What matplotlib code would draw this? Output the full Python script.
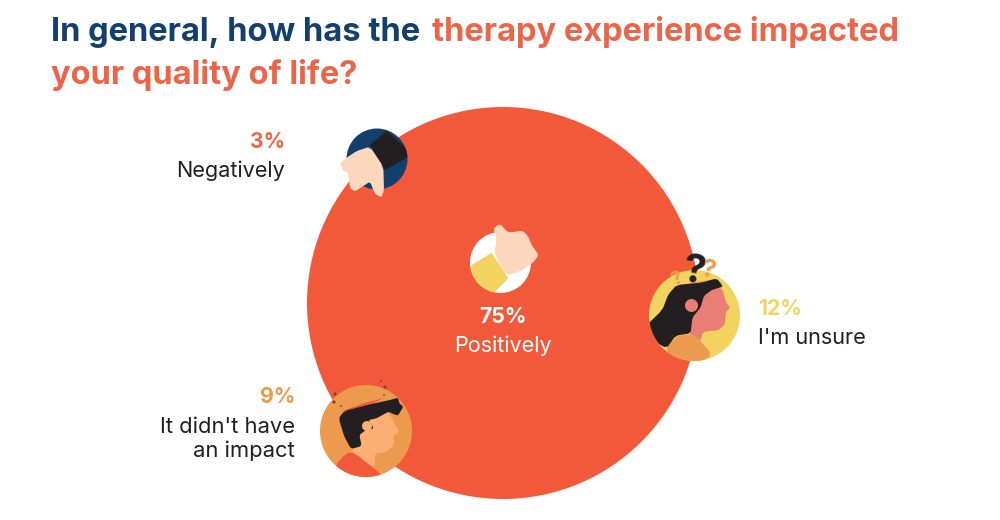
#!/usr/bin/env python3
"""Bubble infographic: how therapy impacted quality of life."""

import matplotlib

matplotlib.use("Agg")
import matplotlib.pyplot as plt
import numpy as np
from matplotlib.patches import Circle, Polygon

plt.rcParams["font.family"] = ["Inter", "DejaVu Sans"]

CATEGORIES = ["Positively", "I'm unsure", "It didn't have\nan impact", "Negatively"]
VALUES = [75, 12, 9, 3]

NAVY = "#123F6D"
RED = "#F2593B"
TITLE_RED = "#EC6548"
YELLOW = "#F3D35F"
ORANGE = "#EC9A4E"
DARK = "#231F20"
SKIN = "#FDD6BE"
PINK = "#E97F74"
TAN = "#FBAF72"


def smooth(points, rounds=2):
    pts = np.array(points, dtype=float)
    for _ in range(rounds):
        nxt = np.roll(pts, -1, axis=0)
        pts = np.column_stack([0.85 * pts + 0.15 * nxt, 0.15 * pts + 0.85 * nxt]).reshape(-1, 2)
    return pts


def shape(ax, points, origin, color, clip=None, zorder=3, rounds=1):
    pts = smooth(points, rounds) / 3 + np.array(origin)
    patch = Polygon(pts, closed=True, facecolor=color, edgecolor="none", zorder=zorder)
    ax.add_patch(patch)
    if clip is not None:
        patch.set_clip_path(clip)
    return patch


def disc(ax, x, y, r, color, zorder=2):
    patch = Circle((x, y), r, facecolor=color, edgecolor="none", zorder=zorder)
    ax.add_patch(patch)
    return patch


def draw_thumb_down(ax):
    o = (320, 110)
    base = disc(ax, 377, 159, 30.5, NAVY)
    shape(ax, [(150, 105), (200, 62), (275, 130), (250, 150), (195, 180)], o, DARK, clip=base, rounds=0)
    shape(ax, [(150, 110), (110, 123), (80, 143), (60, 160), (68, 180), (85, 190), (90, 235), (105, 244),
               (130, 228), (150, 215), (165, 252), (185, 262), (192, 240), (190, 170)], o, SKIN, zorder=4)


def draw_thumb_up(ax):
    o = (450, 210)
    base = disc(ax, 500.5, 262.5, 30.5, "white")
    shape(ax, [(55, 172), (125, 128), (175, 205), (125, 255), (60, 240)], o, YELLOW, clip=base, rounds=0)
    shape(ax, [(130, 55), (150, 42), (175, 68), (218, 62), (235, 80), (245, 105), (266, 135), (250, 157),
               (218, 180), (180, 194), (163, 190), (133, 130), (140, 90)], o, SKIN, zorder=4)


def draw_unsure(ax):
    o = (635, 245)
    base = disc(ax, 694.5, 315.5, 45.5, YELLOW)
    shape(ax, [(115, 125), (175, 112), (242, 102), (205, 118), (150, 128)], o, ORANGE, rounds=0)
    shape(ax, [(160, 265), (170, 220), (165, 170), (230, 128), (262, 130), (272, 170), (285, 188), (272, 202),
               (270, 238), (250, 256), (205, 260), (195, 290)], o, PINK, zorder=4)
    shape(ax, [(95, 305), (130, 272), (178, 268), (232, 328), (180, 365), (100, 350)], o, ORANGE, clip=base, zorder=4.5)
    shape(ax, [(30, 245), (82, 195), (100, 148), (125, 120), (200, 113), (245, 100), (265, 125), (232, 134),
               (207, 152), (197, 187), (172, 218), (167, 265), (122, 272), (95, 310), (50, 285)], o, DARK,
          clip=base, zorder=5)
    disc(ax, 691.5, 305.5, 6.5, PINK, zorder=6)
    ax.text(694, 272, "?", color=DARK, fontsize=29, fontweight="bold", ha="center", va="center", rotation=-8, zorder=7)
    ax.text(677, 279, "?", color=ORANGE, fontsize=14, fontweight="bold", ha="center", va="center", rotation=25, zorder=7)
    ax.text(708, 271, "?", color=ORANGE, fontsize=18, fontweight="bold", ha="center", va="center", rotation=-15, zorder=7)


def draw_no_impact(ax):
    o = (310, 370)
    base = disc(ax, 366, 431, 46, ORANGE)
    shape(ax, [(125, 235), (150, 165), (235, 125), (250, 155), (268, 185), (251, 197), (251, 226), (230, 246),
               (195, 250), (195, 295), (140, 262)], o, TAN, zorder=4)
    shape(ax, [(78, 282), (112, 248), (135, 250), (218, 316), (215, 345), (78, 345)], o, RED, clip=base, zorder=4.5)
    shape(ax, [(98, 122), (160, 100), (222, 84), (180, 105), (115, 125)], o, RED, zorder=4, rounds=0)
    shape(ax, [(86, 145), (103, 123), (180, 103), (240, 90), (264, 83), (268, 100), (280, 110), (264, 137),
               (245, 130), (235, 125), (200, 145), (175, 150), (192, 175), (165, 182), (148, 195), (155, 228),
               (123, 237), (103, 200)], o, DARK, zorder=5)
    disc(ax, 367, 426, 5, TAN, zorder=6)
    for x, y, r in [(335, 394, 1.6), (334, 402, 1.6), (385, 387, 1.6), (381, 381, 0.9), (341, 406, 0.9), (384, 395, 0.9)]:
        disc(ax, x, y, r, "#8E3B2C", zorder=6)


def value_label(ax, x, y, value, label, value_color, label_color, ha):
    ax.text(x, y, f"{value}%", color=value_color, fontsize=15.3, fontweight="bold", ha=ha, va="center", zorder=8)
    ax.text(x, y + 28.5, label, color=label_color, fontsize=15.6, ha=ha, va="center", zorder=8)


def main():
    fig = plt.figure(figsize=(10, 5.2), dpi=100, facecolor="white")
    ax = fig.add_axes([0, 0, 1, 1])
    ax.set_xlim(0, 1000)
    ax.set_ylim(520, 0)
    ax.axis("off")

    ax.text(51, 32, "In general, how has the", color=NAVY, fontsize=23.5, fontweight="bold", va="center")
    ax.text(432, 32, "therapy experience impacted", color=TITLE_RED, fontsize=23.5, fontweight="bold", va="center")
    ax.text(51, 75, "your quality of life?", color=TITLE_RED, fontsize=23.5, fontweight="bold", va="center")

    disc(ax, 503, 303, 196, RED, zorder=1)
    draw_thumb_down(ax)
    draw_thumb_up(ax)
    draw_unsure(ax)
    draw_no_impact(ax)

    value_label(ax, 503, 317, VALUES[0], CATEGORIES[0], "white", "white", "center")
    value_label(ax, 758, 309, VALUES[1], CATEGORIES[1], YELLOW, DARK, "left")
    ax.text(295, 397, f"{VALUES[2]}%", color=ORANGE, fontsize=15.3, fontweight="bold", ha="right", va="center")
    ax.text(295, 439, CATEGORIES[2], color=DARK, fontsize=15.8, ha="right", va="center", linespacing=1.2)
    value_label(ax, 285, 142, VALUES[3], CATEGORIES[3], TITLE_RED, DARK, "right")

    fig.savefig("out.png", dpi=100)
    plt.close(fig)


if __name__ == "__main__":
    main()
